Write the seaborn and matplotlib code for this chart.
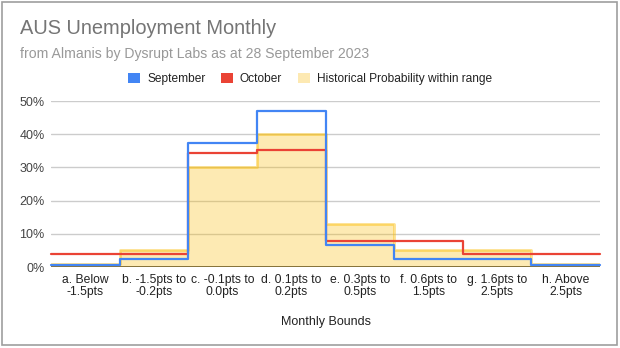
import matplotlib
matplotlib.use("Agg")
import matplotlib.pyplot as plt
from matplotlib.patches import Patch, Rectangle
import numpy as np
import pandas as pd
import seaborn as sns

# Outcome buckets and forecast probabilities (%)
categories = [
    "a. Below\n-1.5pts",
    "b. -1.5pts to\n-0.2pts",
    "c. -0.1pts to\n0.0pts",
    "d. 0.1pts to\n0.2pts",
    "e. 0.3pts to\n0.5pts",
    "f. 0.6pts to\n1.5pts",
    "g. 1.6pts to\n2.5pts",
    "h. Above\n2.5pts",
]
september = [0.5, 2.5, 37.5, 47.1, 6.7, 2.5, 2.5, 0.5]
october = [3.8, 3.8, 34.2, 35.1, 7.7, 7.7, 3.8, 3.8]
historical = [1.0, 5.0, 30.0, 40.0, 13.0, 5.0, 5.0, 1.0]
y_ticks = [0, 10, 20, 30, 40, 50]

BLUE = "#4285F4"
RED = "#EA4335"
YELLOW = "#FBBC04"

sns.set_theme(style="white")
plt.rcParams["font.family"] = ["Liberation Sans", "DejaVu Sans"]

W, H = 620, 348
fig = plt.figure(figsize=(W / 100, H / 100), dpi=100)
left, right, bottom, top = 51, 600, 267, 101
ax = fig.add_axes([left / W, 1 - bottom / H, (right - left) / W, (bottom - top) / H])

# Step data: each bucket occupies [i, i+1); repeat last value to close the step
edges = np.arange(len(categories) + 1)
def stepped(vals):
    return np.asarray(vals + [vals[-1]], dtype=float)

df = pd.DataFrame({
    "x": np.tile(edges, 3),
    "value": np.concatenate([stepped(historical), stepped(september), stepped(october)]),
    "series": ["Historical Probability within range"] * len(edges)
              + ["September"] * len(edges) + ["October"] * len(edges),
})

ax.set_xlim(0, len(categories))
ax.set_ylim(0, 50)

# Gridlines
for t in y_ticks[1:]:
    ax.axhline(t, color="#CCCCCC", lw=1.0, zorder=0)
ax.axhline(0, color="#333333", lw=1.2, zorder=1)

# Historical probability: filled step area
hist_df = df[df.series == "Historical Probability within range"]
ax.fill_between(hist_df["x"], 0, hist_df["value"], step="post",
                color=YELLOW, alpha=0.3, lw=0, zorder=2)
sns.lineplot(data=hist_df, x="x", y="value", ax=ax, color=YELLOW, alpha=0.45,
             lw=2.0, drawstyle="steps-post", zorder=2, legend=False)

sns.lineplot(data=df[df.series == "September"], x="x", y="value", ax=ax,
             color=BLUE, lw=1.6, drawstyle="steps-post", zorder=4,
             legend=False, clip_on=False)
sns.lineplot(data=df[df.series == "October"], x="x", y="value", ax=ax,
             color=RED, lw=1.6, drawstyle="steps-post", zorder=3,
             legend=False, clip_on=False)

for s in ax.spines.values():
    s.set_visible(False)

ax.set_yticks(y_ticks)
ax.set_yticklabels([f"{t}%" for t in y_ticks], fontsize=9, color="#444444")
ax.set_xticks(edges[:-1] + 0.5)
ax.set_xticklabels(categories, fontsize=8.7, color="#222222", linespacing=1.0)
ax.tick_params(axis="both", length=0)
ax.tick_params(axis="y", pad=4.5)
ax.tick_params(axis="x", pad=5)
ax.set_xlabel("")
ax.set_ylabel("")

fig.text(326 / W, 1 - 322 / H, "Monthly Bounds", ha="center", va="center",
         fontsize=9, color="#222222")

fig.text(20 / W, 1 - 29 / H, "AUS Unemployment Monthly", ha="left", va="center",
         fontsize=14.4, color="#757575")
fig.text(20 / W, 1 - 54 / H, "from Almanis by Dysrupt Labs as at 28 September 2023",
         ha="left", va="center", fontsize=10.1, color="#999999")

handles = [Patch(facecolor=BLUE, edgecolor="none", label="September"),
           Patch(facecolor=RED, edgecolor="none", label="October"),
           Patch(facecolor="#FDE9B2", edgecolor="none",
                 label="Historical Probability within range")]
fig.legend(handles=handles, loc="center", bbox_to_anchor=(310 / W, 1 - 79 / H),
           ncol=3, frameon=False, fontsize=8.6, handlelength=1.0,
           handleheight=1.0, handletextpad=0.6, columnspacing=1.3,
           labelcolor="#222222")

# Outer frame
fig.patches.append(Rectangle((2 / W, 3 / H), 615 / W, 343 / H,
                             transform=fig.transFigure, fill=False,
                             edgecolor="#9E9E9E", lw=1.2))

fig.savefig("out.png", dpi=100)
